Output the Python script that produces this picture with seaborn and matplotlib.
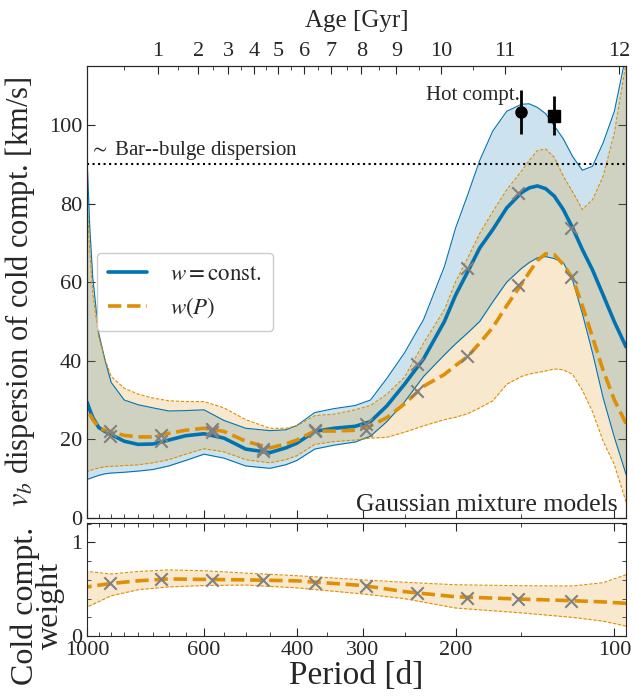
import matplotlib

matplotlib.use("Agg")
import matplotlib.pyplot as plt
import matplotlib.ticker as mticker
import seaborn as sns

sns.set_style("ticks")
plt.rcParams["font.family"] = ["Liberation Serif", "DejaVu Serif"]
plt.rcParams["mathtext.fontset"] = "stix"

# ---------------------------------------------------------
# data
# ---------------------------------------------------------
periods = [1000, 988, 975, 950, 925, 900, 850, 800, 750, 700, 650, 600, 550, 500,
           450, 420, 400, 370, 340, 310, 290, 270, 250, 230, 210, 200, 190, 180,
           170, 160, 150, 145, 140, 135, 130, 125, 120, 115, 110, 105, 100, 95]

# w = const. model
blue_mid = [29.5, 27.5, 25.5, 23.0, 22.0, 21.2, 19.5, 18.7, 18.8, 19.8, 20.9, 21.4,
            20.3, 17.5, 16.6, 17.8, 19.0, 22.0, 22.8, 23.3, 24.5, 28.5, 34.0, 40.5,
            50.0, 56.7, 62.5, 68.7, 73.4, 78.9, 82.8, 84.0, 84.5, 83.8, 81.9, 78.5,
            73.8, 68.3, 63.1, 56.7, 49.9, 43.5]
blue_hi = [92, 74, 61, 47, 40.3, 34.5, 30, 28.8, 28, 27.2, 27.3, 27.5, 24.8, 22.8,
           22.2, 22.4, 23.5, 26.8, 27.8, 28.6, 30, 35.5, 42, 50.5, 64, 73.8, 82, 91,
           98.5, 103.5, 105.3, 105.4, 104.5, 102.9, 99.8, 96.5, 92, 88.5, 89.5, 95.5,
           103.5, 118]
blue_lo = [9.8, 10.0, 10.3, 10.8, 11.2, 11.4, 11.6, 11.9, 12.3, 13.2, 14.6, 16.2,
           15.2, 13.2, 12.6, 13.5, 14.6, 17.5, 18.5, 19.3, 20.8, 24.5, 29.5, 36.0,
           41.5, 44.3, 47, 50, 55, 60, 63.5, 65, 66.2, 66.5, 66, 65, 60.5, 52, 42,
           30.5, 20.5, 11]

# w(P) model
orange_mid = [27.8, 26.4, 25.0, 23.0, 22.3, 21.8, 21.0, 20.6, 20.6, 21.5, 22.3,
              22.8, 22.0, 19.5, 17.8, 18.8, 19.8, 22.1, 22.1, 22.3, 23.4, 25.5,
              29.0, 33.5, 36.5, 38.8, 41.0, 44.5, 48.5, 54.0, 59.5, 62.5, 65.5,
              67.2, 67.0, 64.5, 61.0, 54.0, 46.0, 37.5, 30.0, 24.0]
orange_hi = [81, 68, 57, 46, 40.5, 36, 33, 31.5, 30.5, 29.8, 29.6, 29.6, 28, 25,
             22.8, 22.8, 23.4, 26, 26.4, 27.5, 28.6, 31.5, 35.8, 44.5, 53, 60.1, 66,
             72.4, 78, 83.5, 88.3, 91, 93.5, 93.9, 91.8, 87, 83, 78.5, 81, 87, 98,
             116]
orange_lo = [11.8, 12.0, 12.3, 12.7, 13, 13.1, 13.3, 13.5, 14, 14.8, 16.2, 17.6,
             16.8, 14.8, 14, 14.8, 15.8, 18.7, 19.4, 19.8, 20.3, 20.5, 21.8, 23.4,
             25, 25.6, 26.5, 28, 29.8, 34, 36, 36.6, 37, 37.4, 37.9, 37.7, 36.5,
             32.5, 27, 19.5, 13.5, 4]

# individual bin fits (grey crosses)
bin_periods = [905, 724, 579, 463, 370, 296, 237, 190, 152, 121]
bin_blue = [20.9, 19.5, 21.8, 17.0, 22.4, 23.8, 39.2, 63.5, 82.8, 73.8]
bin_orange = [22.1, 21.2, 22.5, 17.6, 22.1, 22.3, 32.4, 41.3, 59.3, 61.4]
bin_weight = [0.564, 0.61, 0.6, 0.6, 0.564, 0.535, 0.463, 0.403, 0.393, 0.378]

# weight of cold component
w_periods = [1000, 900, 800, 700, 600, 500, 400, 300, 250, 200, 150, 120, 105, 95]
w_mid = [0.525, 0.562, 0.59, 0.61, 0.605, 0.6, 0.59, 0.54, 0.475, 0.42, 0.395,
         0.378, 0.365, 0.35]
w_hi = [0.69, 0.663, 0.69, 0.706, 0.698, 0.672, 0.645, 0.6, 0.575, 0.548, 0.538,
        0.535, 0.57, 0.655]
w_lo = [0.31, 0.43, 0.495, 0.525, 0.54, 0.545, 0.515, 0.45, 0.40, 0.3, 0.248, 0.2,
        0.16, 0.107]

# hot component
hot_periods = [150, 130]
hot_disp = [103.4, 102.4]
hot_err = [5.6, 5.0]
bar_bulge = 90

# top axis: age
ages = [1, 2, 3, 4, 5, 6, 7, 8, 9, 10, 11, 12]
age_periods = [735, 615, 540, 482, 434, 387, 344, 302, 259, 213, 161, 98]
half_age_periods = [849, 672, 576, 510, 457, 410, 365, 322, 280, 235, 185, 126]

period_ticks = [1000, 600, 400, 300, 200, 100]

blue = "#0173b2"
orange = "#de8f05"

# ---------------------------------------------------------
fig = plt.figure(figsize=(6.35, 6.96), dpi=100)
ax1 = fig.add_axes([0.137, 0.256, 0.849, 0.649])
ax2 = fig.add_axes([0.137, 0.086, 0.849, 0.163], sharex=ax1)

for ax in (ax1, ax2):
    ax.set_xscale("log")

# bands
ax1.fill_between(periods, blue_lo, blue_hi, color=blue, alpha=0.2, lw=0)
ax1.fill_between(periods, orange_lo, orange_hi, color=orange, alpha=0.2, lw=0)
for arr in (blue_lo, blue_hi):
    sns.lineplot(x=periods, y=arr, ax=ax1, color=blue, lw=0.8)
for arr in (orange_lo, orange_hi):
    sns.lineplot(x=periods, y=arr, ax=ax1, color=orange, lw=0.8, ls=(0, (3, 1.5)))

sns.lineplot(x=periods, y=blue_mid, ax=ax1, color=blue, lw=2.6,
             label=r"$w = \mathrm{const.}$")
sns.lineplot(x=periods, y=orange_mid, ax=ax1, color=orange, lw=2.6, ls="--",
             label=r"$w(P)$")

sns.scatterplot(x=bin_periods, y=bin_blue, ax=ax1, marker="x", color="grey",
                s=80, linewidth=1.5, zorder=5)
sns.scatterplot(x=bin_periods, y=bin_orange, ax=ax1, marker="x", color="grey",
                s=80, linewidth=1.5, zorder=5)

# hot component points
ax1.errorbar(hot_periods[0], hot_disp[0], yerr=hot_err[0], fmt="o", color="k",
             ms=8, lw=2, zorder=6)
ax1.errorbar(hot_periods[1], hot_disp[1], yerr=hot_err[1], fmt="s", color="k",
             ms=8, lw=2, zorder=6)
ax1.text(151, 107.5, "Hot compt.", ha="right", va="center", fontsize=15)

ax1.axhline(bar_bulge, color="k", ls=":", lw=1.5)
ax1.text(993, bar_bulge + 0.6, r"$\sim$ Bar--bulge dispersion", ha="left",
         va="bottom", fontsize=15)
ax1.text(0.985, 0.005, "Gaussian mixture models", transform=ax1.transAxes,
         ha="right", va="bottom", fontsize=18.5)

ax1.set_ylim(0, 115)
ax1.set_xlim(1000, 95)
ax1.set_yticks([0, 20, 40, 60, 80, 100])
ax1.set_ylabel(r"$v_b$ dispersion of cold compt. [km/s]", fontsize=22)
ax1.yaxis.set_label_coords(-0.092, 0.5)
ax1.legend(loc="center left", bbox_to_anchor=(0.018, 0.5), fontsize=16.5,
           handlelength=1.7, handletextpad=1.0, framealpha=1, borderaxespad=0,
           edgecolor="#cccccc", borderpad=0.5, labelspacing=0.45)

# weight panel
ax2.fill_between(w_periods, w_lo, w_hi, color=orange, alpha=0.2, lw=0)
for arr in (w_lo, w_hi):
    sns.lineplot(x=w_periods, y=arr, ax=ax2, color=orange, lw=0.8, ls=(0, (3, 1.5)))
sns.lineplot(x=w_periods, y=w_mid, ax=ax2, color=orange, lw=2.6, ls="--")
sns.scatterplot(x=bin_periods, y=bin_weight, ax=ax2, marker="x", color="grey",
                s=80, linewidth=1.5, zorder=5)
ax2.set_ylim(0, 1.21)
ax2.set_yticks([0, 1])
ax2.yaxis.set_minor_locator(mticker.MultipleLocator(0.2))
ax2.set_ylabel("Cold compt.\nweight", fontsize=23, linespacing=0.85)
ax2.yaxis.set_label_coords(-0.04, 0.27)

ax2.xaxis.set_major_locator(mticker.FixedLocator(period_ticks))
ax2.xaxis.set_minor_locator(mticker.FixedLocator(
    [p for p in range(100, 1001, 50) if p not in period_ticks]))
ax2.xaxis.set_major_formatter(mticker.FixedFormatter([str(p) for p in period_ticks]))
ax2.xaxis.set_minor_formatter(mticker.NullFormatter())
ax1.set_xlim(1000, 95)

for ax in (ax1, ax2):
    ax.tick_params(which="both", direction="in", right=True, labelsize=16)
    ax.tick_params(which="major", length=6)
    ax.tick_params(which="minor", length=3)
ax2.tick_params(top=True, which="both")
ax1.tick_params(top=False, labelbottom=False, which="both")
ax1.set_xlabel("")
ax2.set_xlabel("Period [d]", fontsize=24, labelpad=0)

# age axis on top
axt = ax1.twiny()
axt.set_xscale("log")
axt.set_xlim(1000, 95)
axt.xaxis.set_major_locator(mticker.FixedLocator(age_periods))
axt.xaxis.set_major_formatter(mticker.FixedFormatter([str(a) for a in ages]))
axt.xaxis.set_minor_locator(mticker.FixedLocator(half_age_periods))
axt.xaxis.set_minor_formatter(mticker.NullFormatter())
axt.tick_params(which="both", direction="in", labelsize=16)
axt.tick_params(which="major", length=6)
axt.tick_params(which="minor", length=3)
axt.set_xlabel("Age [Gyr]", fontsize=18, labelpad=11)

fig.savefig("out.png", dpi=100)
